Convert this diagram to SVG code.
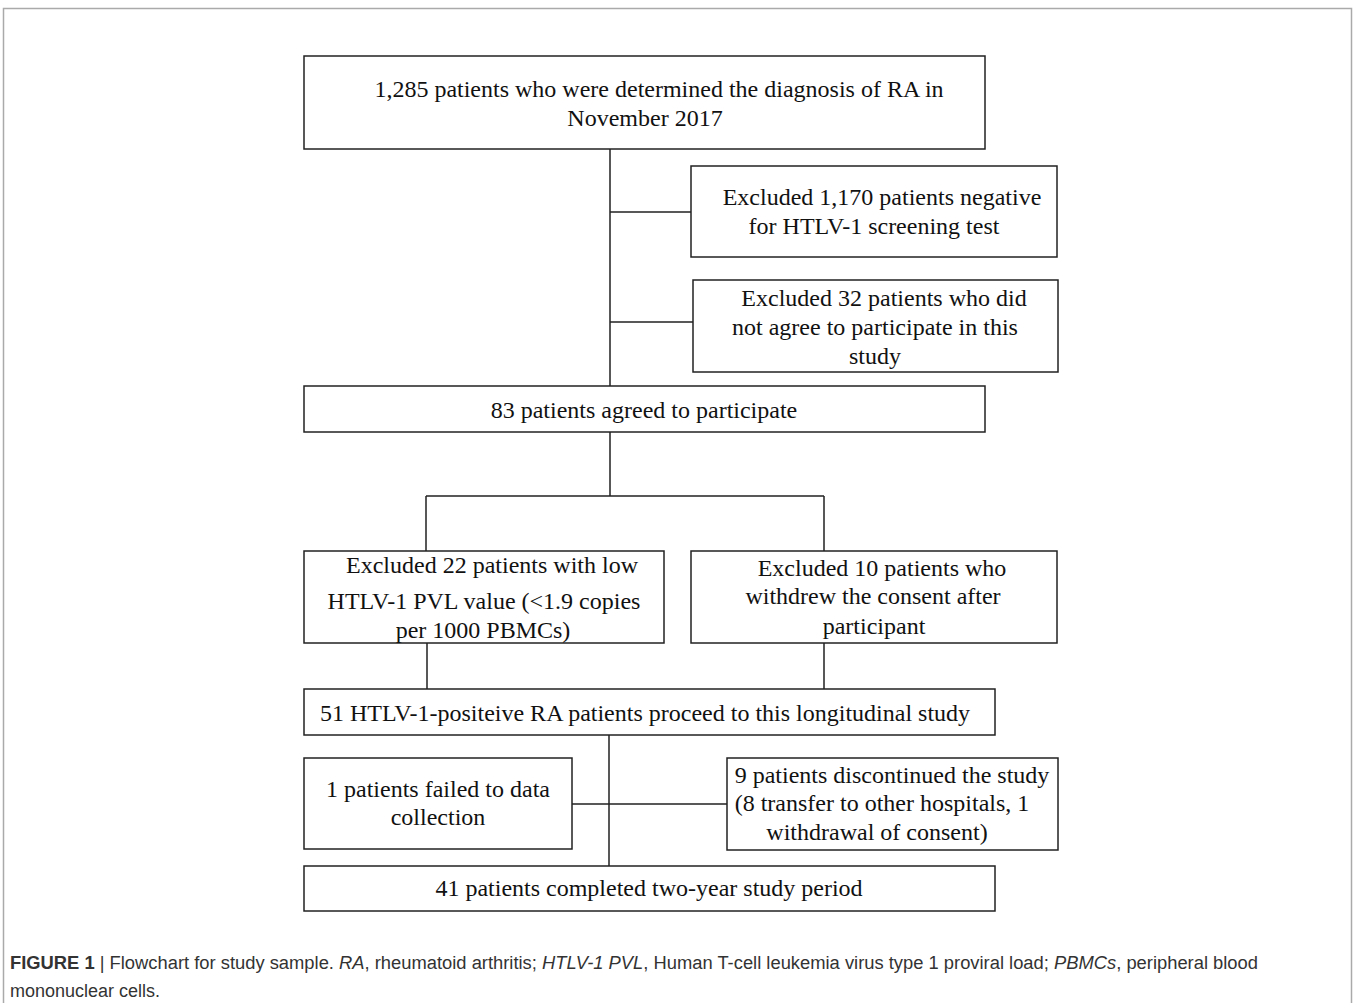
<svg xmlns="http://www.w3.org/2000/svg" width="1355" height="1003" viewBox="0 0 1355 1003">
<style>
.box{fill:#fff;stroke:#222;stroke-width:1.5}
.t{font-family:"Liberation Serif",serif;font-size:24px;fill:#111;text-anchor:middle}
.c{stroke:#222;stroke-width:1.5;fill:none}
.cap{font-family:"Liberation Sans",sans-serif;font-size:18px;fill:#333}
</style>
<rect x="0" y="0" width="1355" height="1003" fill="#fff"/>
<path d="M3.5 1003 V8.5 H1351.5 V1003" fill="none" stroke="#aaa" stroke-width="1.5"/>
<g id="connectors">
<path class="c" d="M610 149 V386 M610 212 H691 M610 322 H693"/>
<path class="c" d="M610 432 V496 M426 496 H824 M426 496 V551 M824 496 V551"/>
<path class="c" d="M427 643 V689 M824 643 V689"/>
<path class="c" d="M609 735 V866 M572 804 H727"/>
</g>
<g id="n1"><rect class="box" x="304" y="56" width="681" height="93"/>
<text class="t" x="659" y="97">1,285 patients who were determined the diagnosis of RA in</text>
<text class="t" x="645" y="126">November 2017</text></g>
<g id="n2"><rect class="box" x="691" y="166" width="366" height="91"/>
<text class="t" x="882" y="205">Excluded 1,170 patients negative</text>
<text class="t" x="874" y="234">for HTLV-1 screening test</text></g>
<g id="n3"><rect class="box" x="693" y="280" width="365" height="92"/>
<text class="t" x="884" y="306">Excluded 32 patients who did</text>
<text class="t" x="875" y="335">not agree to participate in this</text>
<text class="t" x="875" y="364">study</text></g>
<g id="n4"><rect class="box" x="304" y="386" width="681" height="46"/>
<text class="t" x="644" y="418">83 patients agreed to participate</text></g>
<g id="n5"><rect class="box" x="304" y="551" width="360" height="92"/>
<text class="t" x="492" y="573">Excluded 22 patients with low</text>
<text class="t" x="484" y="609">HTLV-1 PVL value (&lt;1.9 copies</text>
<text class="t" x="483" y="638">per 1000 PBMCs)</text></g>
<g id="n6"><rect class="box" x="691" y="551" width="366" height="92"/>
<text class="t" x="882" y="576">Excluded 10 patients who</text>
<text class="t" x="873" y="604">withdrew the consent after</text>
<text class="t" x="874" y="634">participant</text></g>
<g id="n7"><rect class="box" x="304" y="689" width="691" height="46"/>
<text class="t" x="645" y="721">51 HTLV-1-positeive RA patients proceed to this longitudinal study</text></g>
<g id="n8"><rect class="box" x="304" y="758" width="268" height="91"/>
<text class="t" x="438" y="797">1 patients failed to data</text>
<text class="t" x="438" y="825">collection</text></g>
<g id="n9"><rect class="box" x="727" y="758" width="331" height="92"/>
<text class="t" x="892" y="783">9 patients discontinued the study</text>
<text class="t" x="882" y="811">(8 transfer to other hospitals, 1</text>
<text class="t" x="877" y="840">withdrawal of consent)</text></g>
<g id="n10"><rect class="box" x="304" y="866" width="691" height="45"/>
<text class="t" x="649" y="896">41 patients completed two-year study period</text></g>
<text class="cap" x="10" y="969" textLength="1248" lengthAdjust="spacingAndGlyphs"><tspan font-weight="bold">FIGURE 1</tspan> | Flowchart for study sample. <tspan font-style="italic">RA</tspan>, rheumatoid arthritis; <tspan font-style="italic">HTLV-1 PVL</tspan>, Human T-cell leukemia virus type 1 proviral load; <tspan font-style="italic">PBMCs</tspan>, peripheral blood</text>
<text class="cap" x="10" y="997">mononuclear cells.</text>
</svg>
